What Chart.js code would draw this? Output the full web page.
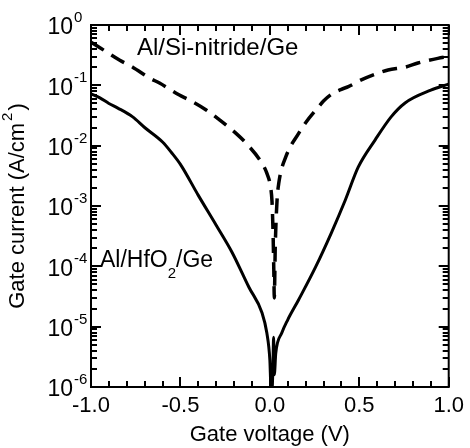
<!DOCTYPE html>
<html>
<head>
<meta charset="utf-8">
<script src="https://cdn.jsdelivr.net/npm/chart.js@4.4.1/dist/chart.umd.min.js"></script>
<style>
  html, body { margin: 0; padding: 0; background: #fff; }
</style>
</head>
<body>
<canvas id="c" width="470" height="448"></canvas>
<script>
// Al/HfO2/Ge (solid)
const vHf = [-1.0, -0.95, -0.9, -0.85, -0.767, -0.7, -0.6, -0.55, -0.5, -0.4, -0.3, -0.211, -0.117, -0.044, -0.017, 0.0, 0.006, 0.012, 0.017, 0.021, 0.025, 0.033, 0.067, 0.1, 0.161, 0.256, 0.344, 0.422, 0.494, 0.589, 0.678, 0.756, 0.9, 1.0];
const iHf = [0.072, 0.062, 0.05, 0.042, 0.03, 0.02, 0.0115, 0.0077, 0.0049, 0.0015, 4.8e-4, 1.7e-4, 4.5e-5, 1.7e-5, 7.9e-6, 2.8e-6, 1e-6, 9e-7, 2e-6, 6.7e-6, 1.6e-6, 3.6e-6, 7.9e-6, 1.3e-5, 2.8e-5, 9.8e-5, 3.6e-4, 1.26e-3, 4.4e-3, 0.0125, 0.03, 0.051, 0.083, 0.105];

// Al/Si-nitride/Ge (dashed)
const vSiN = [-1.0, -0.95, -0.839, -0.767, -0.672, -0.617, -0.506, -0.45, -0.356, -0.283, -0.189, -0.133, -0.044, -0.017, 0.006, 0.012, 0.018, 0.022, 0.025, 0.03, 0.04, 0.05, 0.089, 0.161, 0.2, 0.272, 0.3, 0.344, 0.4, 0.439, 0.511, 0.606, 0.661, 0.756, 0.828, 0.939, 1.0];
const iSiN = [0.52, 0.42, 0.26, 0.2, 0.132, 0.109, 0.069, 0.057, 0.039, 0.027, 0.016, 0.011, 0.0051, 0.0035, 0.0019, 0.0012, 3.5e-4, 9e-5, 3e-5, 2e-4, 1.2e-3, 0.0024, 0.0065, 0.016, 0.024, 0.044, 0.055, 0.071, 0.086, 0.095, 0.123, 0.16, 0.18, 0.2, 0.234, 0.28, 0.3];

const xTicks = [-1.0, -0.5, 0.0, 0.5, 1.0];
const yTickExps = [0, -1, -2, -3, -4, -5, -6];

const FONT = 'Liberation Sans, Arial, sans-serif';

// frame, inward ticks, y labels, axis title and curve labels
const decorations = {
  id: 'decorations',
  afterDraw(chart) {
    const { ctx, chartArea: a, scales: { x, y } } = chart;
    ctx.save();
    ctx.setLineDash([]);
    ctx.strokeStyle = '#000';
    ctx.fillStyle = '#000';

    ctx.lineWidth = 2;
    ctx.strokeRect(a.left, a.top, a.right - a.left, a.bottom - a.top);

    // tick marks, inward on all four sides
    ctx.lineWidth = 2;
    for (let k = -10; k <= 10; k++) {
      const px = Math.round(x.getPixelForValue(k / 10));
      const len = (k % 5 === 0) ? 10 : 6;
      ctx.beginPath();
      ctx.moveTo(px, a.bottom);
      ctx.lineTo(px, a.bottom - len);
      ctx.moveTo(px, a.top);
      ctx.lineTo(px, a.top + len);
      ctx.stroke();
    }
    yTickExps.forEach(e => {
      for (let m = 1; m <= 9; m++) {
        if (e === 0 && m > 1) break;
        const py = Math.round(y.getPixelForValue(m * Math.pow(10, e)));
        const len = m === 1 ? 10 : 6;
        ctx.beginPath();
        ctx.moveTo(a.left, py);
        ctx.lineTo(a.left + len, py);
        ctx.moveTo(a.right, py);
        ctx.lineTo(a.right - len, py);
        ctx.stroke();
      }
    });

    // y tick labels 10^n
    ctx.textBaseline = 'middle';
    yTickExps.forEach(e => {
      const py = y.getPixelForValue(Math.pow(10, e));
      ctx.font = '23px ' + FONT;
      ctx.textAlign = 'right';
      ctx.fillText('10', 73, py + 3);
      ctx.font = '15px ' + FONT;
      ctx.textAlign = 'left';
      ctx.fillText(String(e), 74, py - 7);
    });

    // y axis title
    ctx.save();
    ctx.translate(18, (a.top + a.bottom) / 2);
    ctx.rotate(-Math.PI / 2);
    const t1 = 'Gate current (A/cm';
    ctx.font = '22px ' + FONT;
    const w1 = ctx.measureText(t1).width;
    ctx.font = '15px ' + FONT;
    const w2 = ctx.measureText('2').width;
    ctx.font = '22px ' + FONT;
    const w3 = ctx.measureText(')').width;
    const sx = -(w1 + w2 + w3 + 4) / 2;
    ctx.textAlign = 'left';
    ctx.fillText(t1, sx, 0);
    ctx.font = '15px ' + FONT;
    ctx.fillText('2', sx + w1 + 2, -10);
    ctx.font = '22px ' + FONT;
    ctx.fillText(')', sx + w1 + w2 + 4, 0);
    ctx.restore();

    // curve labels
    ctx.font = '24px ' + FONT;
    ctx.textAlign = 'left';
    ctx.fillText('Al/Si-nitride/Ge', 137, 48);
    ctx.font = '23px ' + FONT;
    const h1 = 'Al/HfO';
    ctx.fillText(h1, 100, 261);
    const hw = ctx.measureText(h1).width;
    ctx.font = '15px ' + FONT;
    ctx.fillText('2', 100 + hw, 274);
    const sw = ctx.measureText('2').width;
    ctx.font = '23px ' + FONT;
    ctx.fillText('/Ge', 100 + hw + sw, 261);

    ctx.restore();
  }
};

new Chart(document.getElementById('c'), {
  type: 'line',
  data: {
    datasets: [
      {
        label: 'Al/HfO2/Ge',
        data: vHf.map((v, i) => ({ x: v, y: iHf[i] })),
        borderColor: '#000',
        borderWidth: 3,
        pointRadius: 0,
        cubicInterpolationMode: 'monotone',
        fill: false
      },
      {
        label: 'Al/Si-nitride/Ge',
        data: vSiN.map((v, i) => ({ x: v, y: iSiN[i] })),
        borderColor: '#000',
        borderWidth: 3.5,
        borderDash: [15, 9],
        pointRadius: 0,
        cubicInterpolationMode: 'monotone',
        fill: false
      }
    ]
  },
  options: {
    responsive: false,
    animation: false,
    layout: { padding: { left: 0, right: 19, top: 25, bottom: 0 } },
    plugins: { legend: { display: false }, tooltip: { enabled: false } },
    scales: {
      x: {
        type: 'linear',
        min: -1,
        max: 1,
        afterBuildTicks: (scale) => { scale.ticks = xTicks.map(v => ({ value: v })); },
        afterFit: (scale) => { scale.height = 61; },
        grid: { display: false, drawTicks: false },
        border: { display: false },
        ticks: {
          padding: 6,
          color: '#000',
          font: { family: FONT, size: 22 },
          maxRotation: 0,
          callback: (v) => Number(v).toFixed(1)
        },
        title: {
          display: true,
          text: 'Gate voltage (V)',
          color: '#000',
          font: { family: FONT, size: 22 },
          padding: { top: 0, bottom: 0 }
        }
      },
      y: {
        type: 'logarithmic',
        min: 1e-6,
        max: 1,
        afterFit: (scale) => { scale.width = 91; },
        grid: { display: false, drawTicks: false },
        border: { display: false },
        ticks: { display: false }
      }
    }
  },
  plugins: [decorations]
});
</script>
</body>
</html>
